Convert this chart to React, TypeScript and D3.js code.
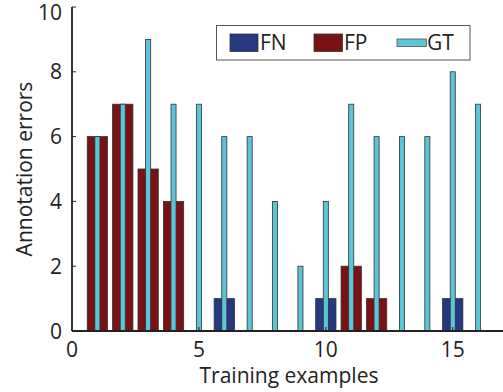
import React from 'react';
import * as d3 from 'd3';

const examples = [1, 2, 3, 4, 5, 6, 7, 8, 9, 10, 11, 12, 13, 14, 15, 16];
const fnErrors = [0, 0, 0, 0, 0, 1, 0, 0, 0, 1, 0, 0, 0, 0, 1, 0];
const fpErrors = [6, 7, 5, 4, 0, 0, 0, 0, 0, 0, 2, 1, 0, 0, 0, 0];
const gtCounts = [6, 7, 9, 7, 7, 6, 6, 4, 2, 4, 7, 6, 6, 6, 8, 7];
const xTicks = [0, 5, 10, 15];
const yTicks = [0, 2, 4, 6, 8, 10];

const width = 503;
const height = 392;
const font = "'Open Sans', sans-serif";
const fs = 21;
const colors = { FN: '#263880', FP: '#7a1215', GT: '#5bc4d6' };

function App() {
  const x = d3.scaleLinear([0, 17], [72, 503.5]);
  const y = d3.scaleLinear([0, 10], [331, 7]);
  const unit = x(1) - x(0);
  const wide = unit * 0.8;
  const narrow = unit * 0.2;

  const bars = (vals: number[], w: number, color: string, key: string) =>
    vals.map((v, i) =>
      v > 0 ? (
        <rect
          key={key + i}
          x={x(examples[i]) - w / 2}
          y={y(v)}
          width={w}
          height={y(0) - y(v)}
          fill={color}
          stroke="#333"
          strokeWidth={0.8}
        />
      ) : null
    );

  return (
    <svg width={width} height={height} style={{ position: 'fixed', left: 0, top: 0, background: '#fff' }}>
      {bars(fnErrors, wide, colors.FN, 'fn')}
      {bars(fpErrors, wide, colors.FP, 'fp')}
      {bars(gtCounts, narrow, colors.GT, 'gt')}

      {/* axes */}
      <line x1={x(0)} x2={width} y1={y(0)} y2={y(0)} stroke="#222" strokeWidth={1.8} />
      <line x1={x(0)} x2={x(0)} y1={y(0)} y2={y(10)} stroke="#222" strokeWidth={1.8} />
      {yTicks.map(t => (
        <g key={'y' + t}>
          <line x1={x(0)} x2={x(0) + 4} y1={y(t)} y2={y(t)} stroke="#222" strokeWidth={1} />
          <text x={62} y={Math.max(y(t), 12)} dy="0.36em" textAnchor="end" fontFamily={font} fontSize={fs} fill="#222">{t}</text>
        </g>
      ))}
      {xTicks.map(t => (
        <g key={'x' + t}>
          <line x1={x(t)} x2={x(t)} y1={y(0)} y2={y(0) - 4} stroke="#222" strokeWidth={1} />
          <text x={x(t)} y={357} textAnchor="middle" fontFamily={font} fontSize={fs} fill="#222">{t}</text>
        </g>
      ))}
      <text x={289} y={383} textAnchor="middle" fontFamily={font} fontSize={fs} fill="#222">Training examples</text>
      <text transform="translate(32,169) rotate(-90)" textAnchor="middle" fontFamily={font} fontSize={fs} fill="#222">Annotation errors</text>

      {/* legend */}
      <rect x={216.5} y={25.5} width={253.5} height={34.5} fill="#fff" stroke="#555" strokeWidth={1} />
      <rect x={230} y={34} width={28} height={17.5} fill={colors.FN} stroke="#333" strokeWidth={0.8} />
      <text x={260} y={50} fontFamily={font} fontSize={fs} fill="#222">FN</text>
      <rect x={314} y={34} width={28.5} height={17.5} fill={colors.FP} stroke="#333" strokeWidth={0.8} />
      <text x={344} y={50} fontFamily={font} fontSize={fs} fill="#222">FP</text>
      <rect x={397} y={39} width={29.5} height={7.5} fill={colors.GT} stroke="#555" strokeWidth={0.8} />
      <text x={427} y={50} fontFamily={font} fontSize={fs} fill="#222">GT</text>
    </svg>
  );
}

export default App;
